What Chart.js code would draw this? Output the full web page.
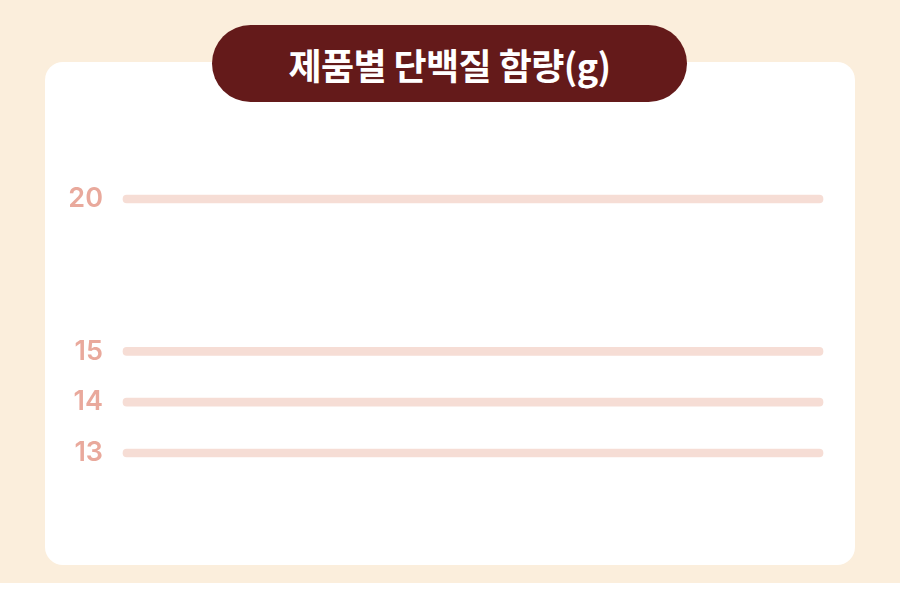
<!DOCTYPE html>
<html>
<head>
<meta charset="utf-8">
<script src="https://cdn.jsdelivr.net/npm/chart.js@4"></script>
<style>
  body { margin: 0; background: #fff; }
  #wrap { position: relative; width: 900px; height: 583px; background: #fbeedc; overflow: hidden; }
  #card { position: absolute; left: 45px; top: 62px; width: 810px; height: 503px; background: #fff; border-radius: 18px; }
  #title {
    position: absolute; left: 212px; top: 25px; width: 475px; height: 77px;
    background: #641a1a; border-radius: 39px; color: #fff;
    font-family: "Noto Sans CJK KR", sans-serif; font-weight: 700; font-size: 36px;
    display: flex; align-items: center; justify-content: center; letter-spacing: -0.6px;
  }
  #chartBox { position: absolute; left: 45px; top: 62px; width: 810px; height: 503px; }
</style>
</head>
<body>
<div id="wrap">
  <div id="card"></div>
  <div id="title">제품별 단백질 함량(g)</div>
  <div id="chartBox"><canvas id="proteinChart"></canvas></div>
</div>
<script>
// tick labels on the y axis (blank slots keep the gap between 20 and 15)
var tickLabels = ["20", "", "", "15", "14", "13"];
// track length for each row (full width), null where no row is drawn
var trackValues = [1, null, null, 1, 1, 1];

var ctx = document.getElementById('proteinChart').getContext('2d');
var proteinChart = new Chart(ctx, {
    type: 'bar',
    data: {
        labels: tickLabels,
        datasets: [{
            data: trackValues,
            backgroundColor: '#f6ddd5',
            barThickness: 8,
            borderRadius: 4,
            borderSkipped: false,
            clip: false
        }]
    },
    options: {
        indexAxis: 'y',
        responsive: true,
        maintainAspectRatio: false,
        animation: false,
        layout: { padding: { left: 0, right: 32, top: 137, bottom: 112 } },
        plugins: { legend: { display: false }, tooltip: { enabled: false } },
        scales: {
            x: { display: false, min: 0, max: 1 },
            y: {
                offset: false,
                grid: { display: false, drawTicks: false },
                border: { display: false },
                ticks: {
                    color: '#e9a99c',
                    padding: 20,
                    font: { family: 'Inter', size: 27, weight: '600' }
                },
                afterFit: function (scale) { scale.width = 78; }
            }
        }
    }
});
</script>
</body>
</html>
